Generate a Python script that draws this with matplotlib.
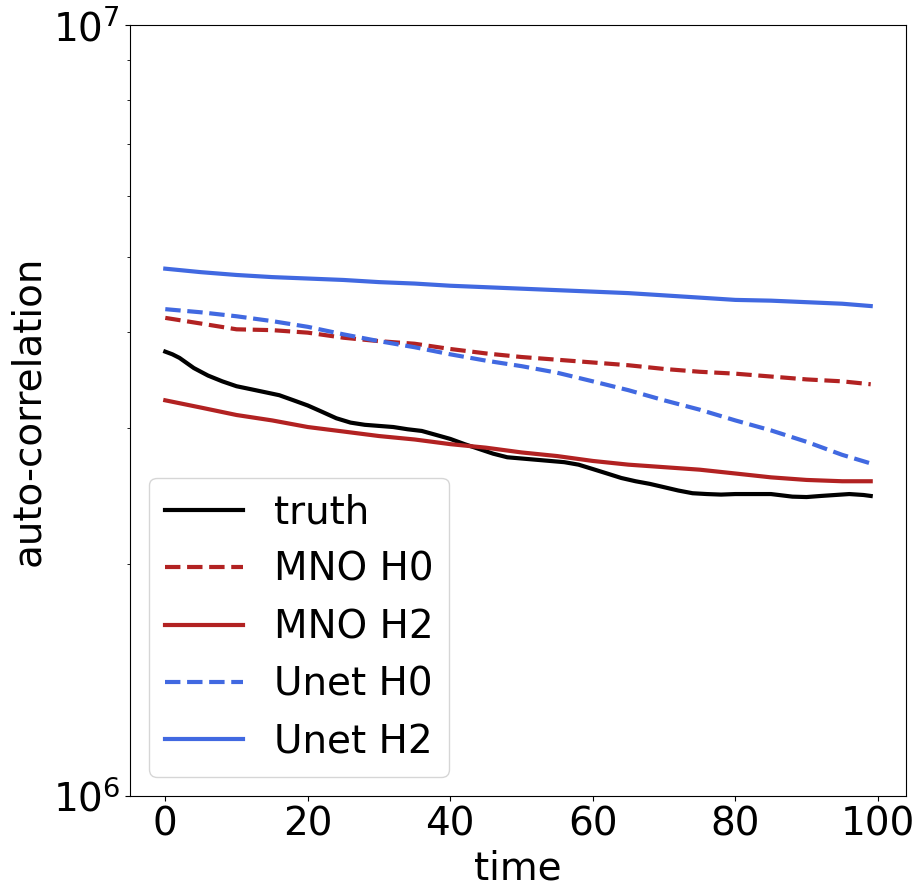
import numpy as np
import matplotlib.pyplot as plt

t = [0, 5, 10, 15, 20, 25, 30, 35, 40, 45, 50, 55, 60, 65, 70, 75, 80, 85, 90, 95, 99]

# auto-correlation values (x 1e6)
mno_h0 = [4.17, 4.10, 4.03, 4.02, 3.99, 3.93, 3.89, 3.86, 3.80, 3.75, 3.71,
          3.68, 3.65, 3.62, 3.58, 3.55, 3.53, 3.50, 3.47, 3.45, 3.42]
mno_h2 = [3.26, 3.19, 3.12, 3.07, 3.01, 2.97, 2.93, 2.90, 2.86, 2.83, 2.79,
          2.76, 2.72, 2.69, 2.67, 2.65, 2.62, 2.59, 2.57, 2.56, 2.56]
unet_h0 = [4.28, 4.24, 4.19, 4.13, 4.06, 3.97, 3.89, 3.82, 3.74, 3.67, 3.61,
           3.54, 3.45, 3.36, 3.26, 3.17, 3.07, 2.98, 2.88, 2.77, 2.70]
unet_h2 = [4.83, 4.78, 4.74, 4.71, 4.69, 4.67, 4.64, 4.62, 4.59, 4.57, 4.55,
           4.53, 4.51, 4.49, 4.46, 4.43, 4.40, 4.39, 4.37, 4.35, 4.32]

# truth is wigglier, read more densely
t_truth = [0, 1, 2, 4, 6, 8, 10, 12, 14, 16, 18, 20, 22, 24, 26, 28, 30, 32, 34,
           36, 38, 40, 42, 44, 46, 48, 50, 52, 54, 56, 58, 60, 62, 64, 66, 68,
           70, 72, 74, 76, 78, 80, 85, 88, 90, 92, 94, 96, 98, 99]
truth = [3.77, 3.74, 3.70, 3.59, 3.51, 3.45, 3.40, 3.37, 3.34, 3.31, 3.26,
         3.21, 3.15, 3.09, 3.05, 3.03, 3.02, 3.01, 2.99, 2.975, 2.94, 2.905,
         2.86, 2.82, 2.78, 2.75, 2.74, 2.73, 2.72, 2.71, 2.69, 2.655, 2.62,
         2.585, 2.56, 2.54, 2.515, 2.49, 2.47, 2.464, 2.46, 2.464, 2.464,
         2.445, 2.442, 2.45, 2.457, 2.464, 2.457, 2.45]

scale = 1e6

fig = plt.figure(figsize=(9.24, 8.96), dpi=100)
ax = fig.add_axes([0.1407, 0.1116, 0.8398, 0.8605])

ax.plot(t_truth, np.array(truth) * scale, color='black', lw=3, label='truth')
ax.plot(t, np.array(mno_h0) * scale, color='firebrick', lw=3, ls='--', label='MNO H0')
ax.plot(t, np.array(mno_h2) * scale, color='firebrick', lw=3, label='MNO H2')
ax.plot(t, np.array(unet_h0) * scale, color='royalblue', lw=3, ls='--', label='Unet H0')
ax.plot(t, np.array(unet_h2) * scale, color='royalblue', lw=3, label='Unet H2')

ax.set_yscale('log')
ax.set_ylim(1e6, 1e7)
ax.set_xticks([0, 20, 40, 60, 80, 100])
ax.tick_params(labelsize=28)
ax.set_xlabel('time', fontsize=28)
ax.set_ylabel('auto-correlation', fontsize=28)
ax.legend(fontsize=28, loc='lower left')

fig.savefig('out.png', dpi=100)
